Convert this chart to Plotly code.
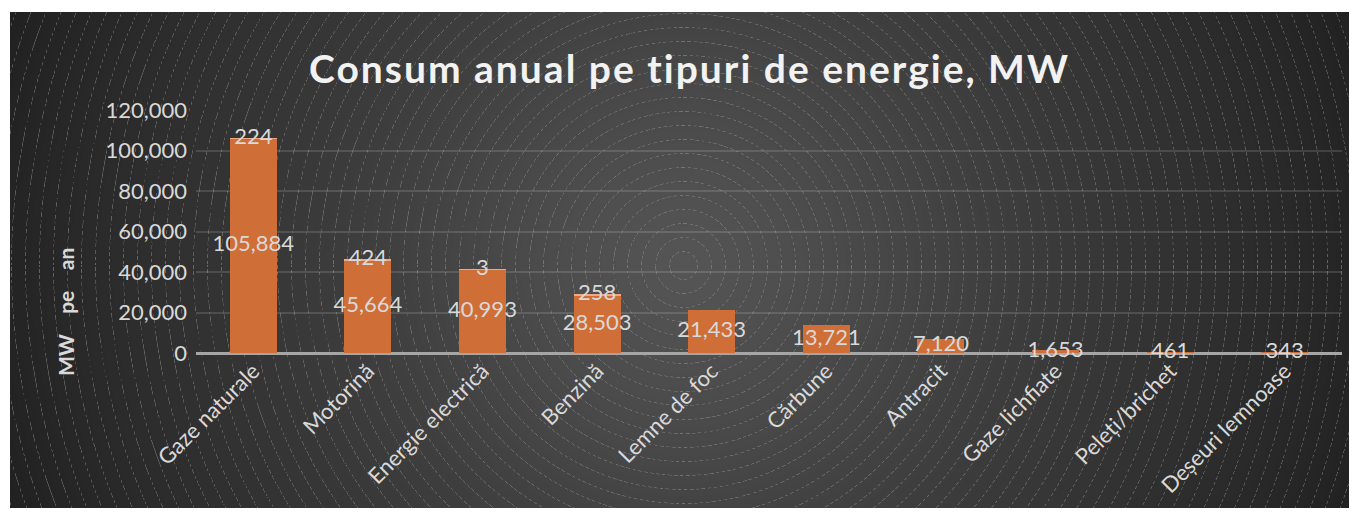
import base64
import struct
import zlib

import numpy as np
import plotly.graph_objects as go

# --- data ---
categories = ["Gaze naturale", "Motorină", "Energie electrică", "Benzină", "Lemne de foc",
              "Cărbune", "Antracit", "Gaze lichfiate", "Peleți/brichet", "Deșeuri lemnoase"]
main_values = [105884, 45664, 40993, 28503, 21433, 13721, 7120, 1653, 461, 343]
extra_values = [224, 424, 3, 258, 0, 0, 0, 0, 0, 0]
y_ticks = [0, 20000, 40000, 60000, 80000, 100000, 120000]

OFF = 8  # page body margin
W, H = 1359 - OFF, 518 - OFF
PL, PR, PT, PB = 196 - OFF, 1342 - OFF, 110 - OFF, 353 - OFF  # plot area in pixels


def png_data_uri(img):
    h, w, _ = img.shape
    raw = b"".join(b"\x00" + img[r].tobytes() for r in range(h))

    def chunk(tag, data):
        c = struct.pack(">I", len(data)) + tag + data
        return c + struct.pack(">I", zlib.crc32(tag + data) & 0xffffffff)

    png = b"\x89PNG\r\n\x1a\n"
    png += chunk(b"IHDR", struct.pack(">IIBBBBB", w, h, 8, 2, 0, 0, 0))
    png += chunk(b"IDAT", zlib.compress(raw, 9))
    png += chunk(b"IEND", b"")
    return "data:image/png;base64," + base64.b64encode(png).decode()


# --- dark background with radial gradient and dashed rings ---
bx0, by0, bx1, by1 = 10 - OFF, 12 - OFF, 1349 - OFF, 508 - OFF
bw, bh = bx1 - bx0, by1 - by0
cx, cy = 683 - OFF - bx0, 265 - OFF - by0
yy, xx = np.mgrid[0:bh, 0:bw].astype(float)
d = np.hypot(xx - cx, yy - cy)
t = np.clip(d / 720.0, 0, 1)
base = 86 * (1 - t) + 33 * t
spacing = 14.0
ring_dist = np.abs(d - np.round(d / spacing) * spacing)
ring = np.clip(1 - ring_dist / 0.7, 0, 1)
theta = np.arctan2(yy - cy, xx - cx)
dash = ((d * theta) % 6.0) < 3.5
ring = ring * dash * (d > 5)
val = base + ring * (150 - base) * 0.55
img = np.clip(np.stack([val, val, val], axis=-1), 0, 255).astype(np.uint8)
bg_uri = png_data_uri(img)


def px_x(x):
    return (x - OFF - PL) / (PR - PL)


def px_y(y):
    return (PB - (y - OFF)) / (PB - PT)


totals = [m + e for m, e in zip(main_values, extra_values)]
label_col = "#d9d9d9"

fig = go.Figure()
fig.add_trace(go.Bar(x=categories, y=main_values, marker=dict(color="#d06e37", line=dict(width=0)),
                     hoverinfo="x+y"))
fig.add_trace(go.Bar(x=categories, y=extra_values, marker=dict(color="#f0a987", line=dict(width=0)),
                     hoverinfo="x+y"))

# value labels
fig.add_trace(go.Scatter(x=categories, y=[v / 2 for v in main_values], mode="text",
                         text=[f"{v:,}" for v in main_values],
                         textfont=dict(family="Lato", size=22, color=label_col),
                         cliponaxis=False, hoverinfo="skip"))
fig.add_trace(go.Scatter(x=categories, y=totals, mode="text",
                         text=[str(e) if e else "" for e in extra_values],
                         textfont=dict(family="Lato", size=22, color=label_col),
                         cliponaxis=False, hoverinfo="skip"))

fig.add_layout_image(dict(source=bg_uri, xref="paper", yref="paper",
                          x=px_x(10), y=px_y(12), sizex=bw / (PR - PL), sizey=bh / (PB - PT),
                          xanchor="left", yanchor="top", sizing="stretch", layer="below"))

fig.add_annotation(text='<span style="letter-spacing:2px"><b>Consum anual pe tipuri de energie, MW</b></span>',
                   xref="paper", yref="paper", x=px_x(689), y=px_y(68),
                   xanchor="center", yanchor="middle", showarrow=False,
                   font=dict(family="Lato", size=39, color="#f2f2f2"))
fig.add_annotation(text="<b>MW    pe    an</b>", xref="paper", yref="paper",
                   x=px_x(65), y=px_y(312), xanchor="center", yanchor="middle",
                   showarrow=False, textangle=-90,
                   font=dict(family="Lato", size=21, color="#d9d9d9"))

fig.update_layout(
    width=W, height=H,
    margin=dict(l=PL, r=W - PR, t=PT, b=H - PB),
    paper_bgcolor="white", plot_bgcolor="rgba(0,0,0,0)",
    barmode="stack", bargap=0.59, showlegend=False,
    font=dict(family="Lato", color=label_col),
)
fig.update_xaxes(tickangle=-45, tickfont=dict(family="Lato", size=22, color=label_col),
                 showgrid=False, showline=False, ticks="", ticklabelstandoff=0)
fig.update_yaxes(range=[0, 120000], tickvals=y_ticks, tickformat=",",
                 tickfont=dict(family="Lato", size=22, color=label_col),
                 showgrid=True, gridcolor="rgba(255,255,255,0.13)", gridwidth=1.5,
                 zeroline=True, zerolinecolor="#a6a6a6", zerolinewidth=2.5,
                 showline=False, ticks="", ticklabelstandoff=8)

fig.write_html("out.html")
